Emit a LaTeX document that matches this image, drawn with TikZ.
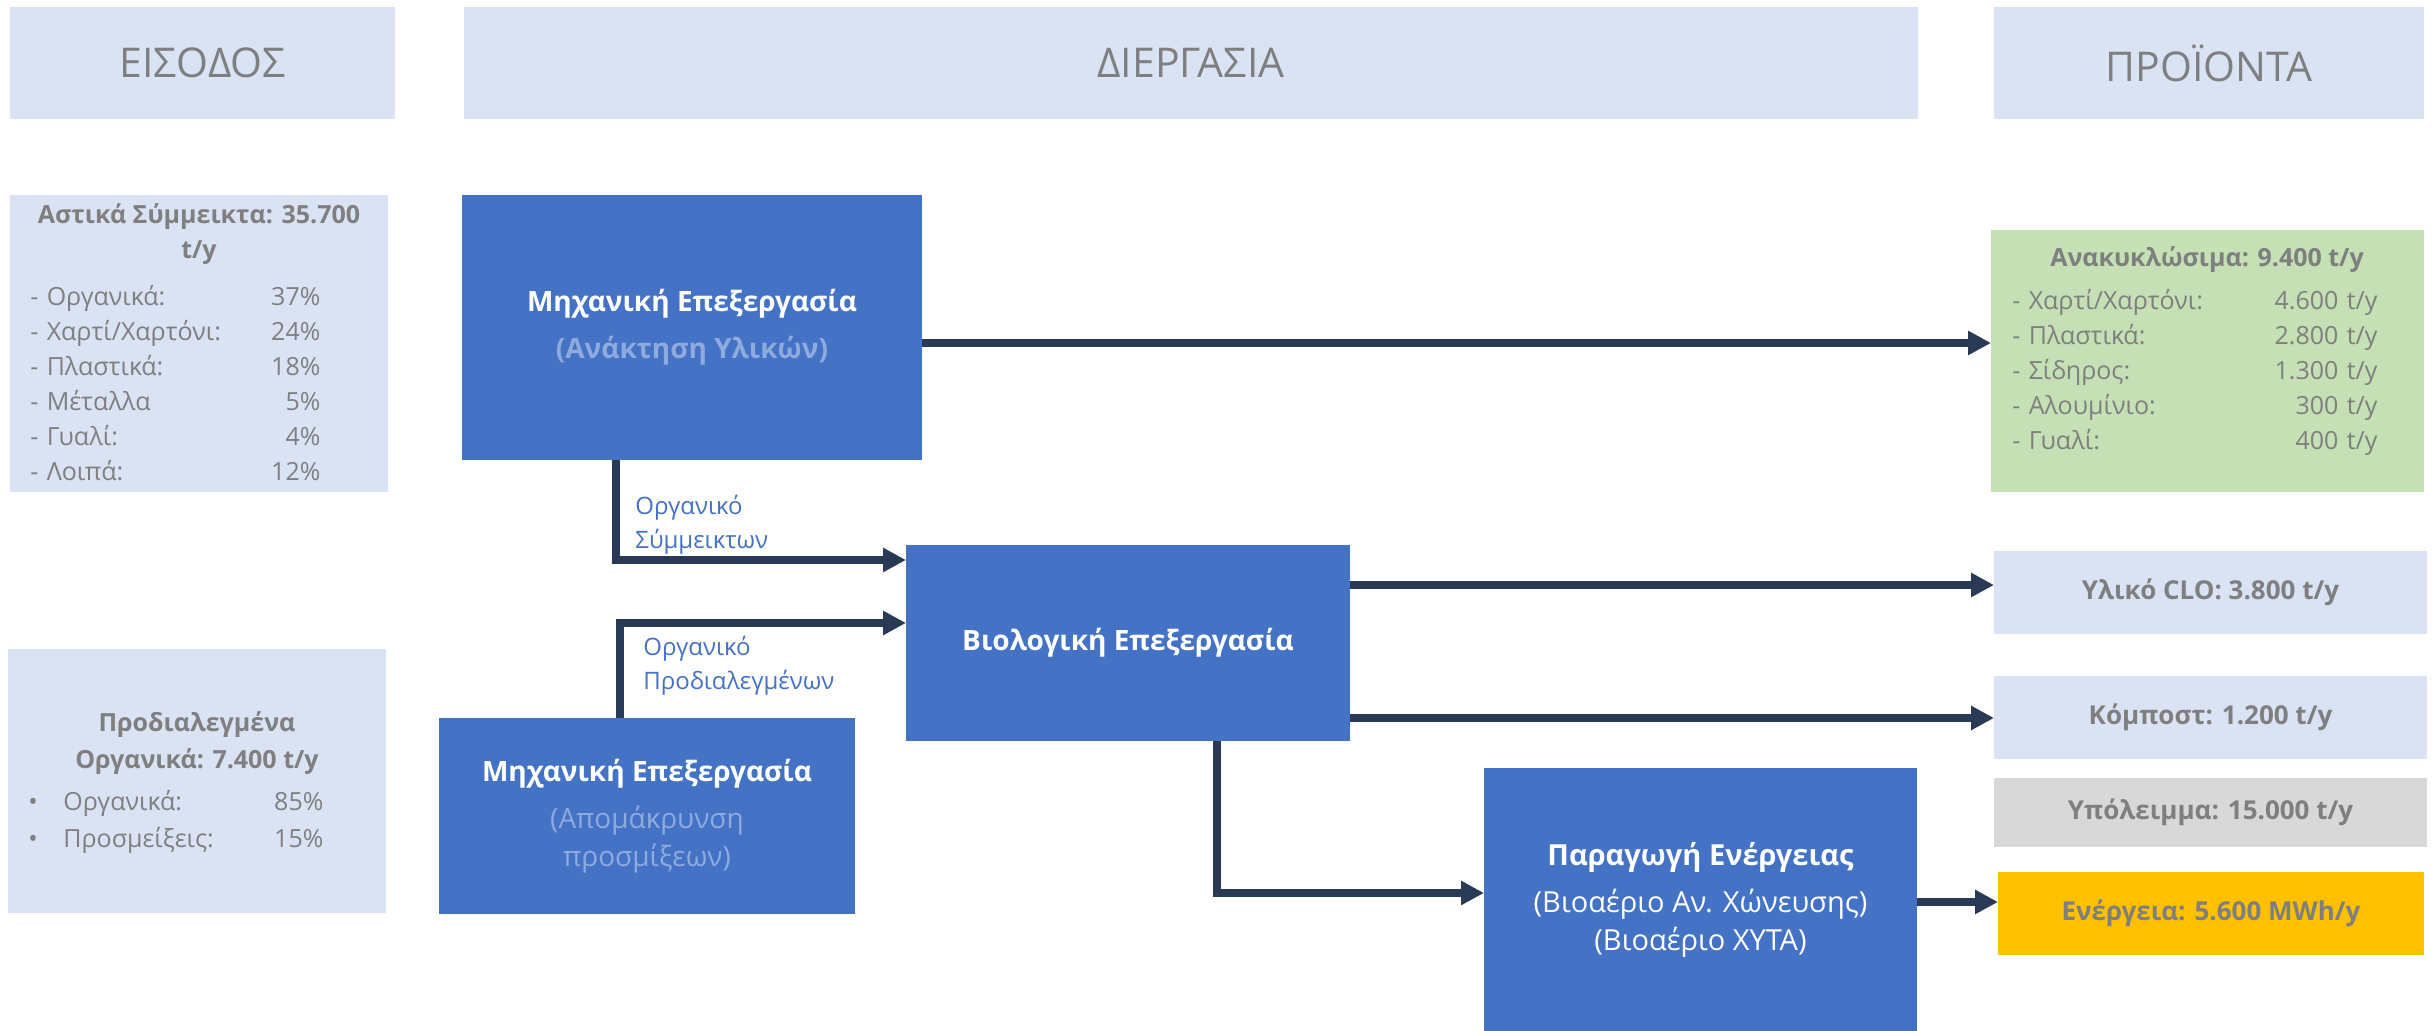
\documentclass[tikz,border=0pt]{standalone}
\usepackage{fontspec}
\setmainfont{Open Sans}
\usetikzlibrary{arrows.meta}
\definecolor{lblue}{HTML}{DAE3F3}
\definecolor{mblue}{HTML}{4472C4}
\definecolor{sblue}{HTML}{8FAADC}
\definecolor{txtgray}{HTML}{7F7F7F}
\definecolor{lgreen}{HTML}{C5E0B4}
\definecolor{lgray}{HTML}{D9D8D9}
\definecolor{gold}{HTML}{FFC000}
\definecolor{navy}{HTML}{283A55}
\tikzset{
  hdr/.style={fill=lblue, inner sep=0pt, outer sep=0pt, text=txtgray, font=\fontsize{20.5}{24}\selectfont},
  lbox/.style={fill=lblue, inner sep=0pt, outer sep=0pt},
  bbox/.style={fill=mblue, inner sep=0pt, outer sep=0pt, text=white, align=center, font=\fontsize{14}{19}\selectfont},
  pbox/.style={inner sep=0pt, outer sep=0pt, text=txtgray, font=\bfseries\fontsize{13}{17}\selectfont},
  conn/.style={draw=navy, line width=4pt, line join=miter, -{Triangle[length=11.5pt,width=11.5pt]}},
  ttl/.style={text=txtgray, font=\bfseries\fontsize{12.5}{17.5}\selectfont, align=center, inner sep=0pt},
  lst/.style={text=txtgray, font=\fontsize{12.5}{17.5}\selectfont, align=left, inner sep=0pt, anchor=west},
  lbl/.style={text=mblue, font=\fontsize{12}{17}\selectfont, align=left, inner sep=0pt, anchor=west},
}
\begin{document}
\begin{tikzpicture}[x=0.5pt,y=-0.5pt]
\useasboundingbox (0,0) rectangle (2433,1031);
% headers
\node[hdr, minimum width=192.5pt, minimum height=56pt] (hin) at (202.5,63) {ΕΙΣΟΔΟΣ};
\node[hdr, minimum width=727pt, minimum height=56pt] (hproc) at (1191,63) {ΔΙΕΡΓΑΣΙΑ};
\node[hdr, minimum width=215pt, minimum height=56pt] (hout) at (2209,63) {ΠΡΟΪΟΝΤΑ};
% inputs
\node[lbox, minimum width=189pt, minimum height=148.5pt] (in1) at (199,343.5) {};
\node[ttl] (in1t) at (199,234.5) {Αστικά Σύμμεικτα: 35.700\\t/y};
\node[lst, text width=145pt] (in1l) at (30,383.5) {- Οργανικά:\hfill 37\%\\- Χαρτί/Χαρτόνι:\hfill 24\%\\- Πλαστικά:\hfill 18\%\\- Μέταλλα\hfill 5\%\\- Γυαλί:\hfill 4\%\\- Λοιπά:\hfill 12\%};
\node[lbox, minimum width=189pt, minimum height=132pt] (in2) at (197,781) {};
\node[ttl, font=\bfseries\fontsize{12.5}{18.5}\selectfont] (in2t) at (197,743.5) {Προδιαλεγμένα\\Οργανικά: 7.400 t/y};
\node[lst, text width=147.5pt, font=\fontsize{12.5}{18.5}\selectfont] (in2l) at (28,821.5) {\makebox[17.5pt][l]{•}Οργανικά:\hfill 85\%\\\makebox[17.5pt][l]{•}Προσμείξεις:\hfill 15\%};
% process boxes
\node[bbox, minimum width=230pt, minimum height=132.5pt] (mech1) at (692,327.5) {{\bfseries Μηχανική Επεξεργασία}\\[4.5pt]\color{sblue}\bfseries (Ανάκτηση Υλικών)};
\node[bbox, minimum width=208pt, minimum height=98pt] (mech2) at (647,816) {{\bfseries Μηχανική Επεξεργασία}\\[4.5pt]\color{sblue}(Απομάκρυνση\\\color{sblue}προσμίξεων)};
\node[bbox, minimum width=222pt, minimum height=98pt] (bio) at (1128,643) {\bfseries Βιολογική Επεξεργασία};
\node[bbox, minimum width=216.5pt, minimum height=131.5pt] (energy) at (1700.5,899.5) {{\bfseries\fontsize{14.5}{19}\selectfont Παραγωγή Ενέργειας}\\[4.5pt]\fontsize{14.5}{19}\selectfont(Βιοαέριο Αν. Χώνευσης)\\\fontsize{14.5}{19}\selectfont(Βιοαέριο ΧΥΤΑ)};
% outputs
\node[lbox, fill=lgreen, minimum width=216.5pt, minimum height=131pt] (rec) at (2207.5,361) {};
\node[ttl] (rect) at (2207,260) {Ανακυκλώσιμα: 9.400 t/y};
\node[lst, text width=182.5pt] (recl) at (2012,372) {- Χαρτί/Χαρτόνι:\hfill 4.600 t/y\\- Πλαστικά:\hfill 2.800 t/y\\- Σίδηρος:\hfill 1.300 t/y\\- Αλουμίνιο:\hfill 300 t/y\\- Γυαλί:\hfill 400 t/y};
\node[pbox, fill=lblue, minimum width=216.5pt, minimum height=41.5pt] (clo) at (2210.5,592.5) {Υλικό CLO: 3.800 t/y};
\node[pbox, fill=lblue, minimum width=216.5pt, minimum height=41.5pt] (comp) at (2210.5,717.5) {Κόμποστ: 1.200 t/y};
\node[pbox, fill=lgray, minimum width=216.5pt, minimum height=34.5pt] (resid) at (2210.5,812.5) {Υπόλειμμα: 15.000 t/y};
\node[pbox, fill=gold, minimum width=213pt, minimum height=41.5pt] (enout) at (2211,913.5) {Ενέργεια: 5.600 MWh/y};
% labels
\node[lbl] (lbl1) at (635,525) {Οργανικό\\Σύμμεικτων};
\node[lbl] (lbl2) at (643,666) {Οργανικό\\Προδιαλεγμένων};
% helper coordinates
\coordinate (y343) at (0,343);
\coordinate (y560) at (0,560);
\coordinate (y623) at (0,623);
\coordinate (y585) at (0,585);
\coordinate (y718) at (0,718);
\coordinate (y893) at (0,893);
\coordinate (y902) at (0,902);
\coordinate (x616) at (616,0);
\coordinate (x620) at (620,0);
\coordinate (x1217) at (1217,0);
% connectors
\draw[conn] (mech1.east |- y343) -- (rec.west |- y343);
\draw[conn] (mech1.south -| x616) |- (bio.west |- y560);
\draw[conn] (mech2.north -| x620) |- (bio.west |- y623);
\draw[conn] (bio.east |- y585) -- (clo.west |- y585);
\draw[conn] (bio.east |- y718) -- (comp.west |- y718);
\draw[conn] (bio.south -| x1217) |- (energy.west |- y893);
\draw[conn] (energy.east |- y902) -- (enout.west |- y902);
\end{tikzpicture}
\end{document}
